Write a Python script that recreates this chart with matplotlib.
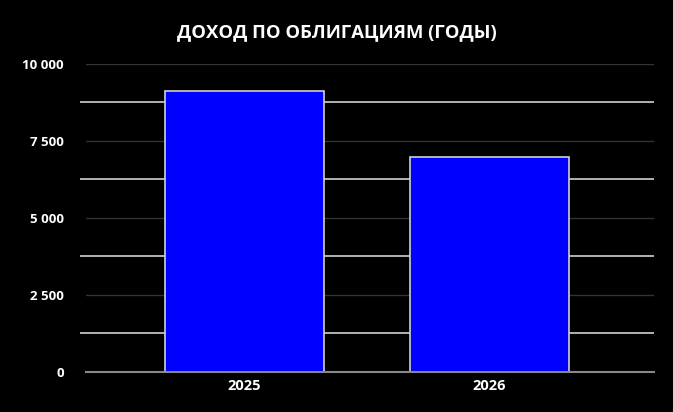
import matplotlib
matplotlib.use("Agg")
import matplotlib.pyplot as plt
from matplotlib.ticker import FixedLocator

# data
years = ["2025", "2026"]
income = [9120, 6980]
y_ticks = [0, 2500, 5000, 7500, 10000]
y_tick_labels = ["0", "2 500", "5 000", "7 500", "10 000"]
minor_ticks = [1250, 3750, 6250, 8750]

plt.rcParams["font.family"] = ["Open Sans", "DejaVu Sans"]

fig = plt.figure(figsize=(6.73, 4.12), dpi=100, facecolor="black")
ax = fig.add_axes([0.1278, 0.0971, 0.8440, 0.7476], facecolor="black")

x = list(range(len(years)))
ax.bar(x, income, width=0.65, color="#0000ff", edgecolor="#d0d0d0",
       linewidth=1.2, zorder=3)

ax.set_xlim(-0.647, 1.671)
ax.set_ylim(0, 10000)

ax.set_yticks(y_ticks)
ax.set_yticklabels(y_tick_labels)
ax.yaxis.set_minor_locator(FixedLocator(minor_ticks))
ax.set_xticks(x)
ax.set_xticklabels(years)

# major grid dark, minor grid light (the odd look of the original)
ax.grid(True, axis="y", which="major", color="#333333", linewidth=1.0, zorder=0)
ax.grid(True, axis="y", which="minor", color="#d0d0d0", linewidth=1.2, zorder=0)

for spine in ["top", "right", "left"]:
    ax.spines[spine].set_visible(False)
ax.spines["bottom"].set_color("#888888")
ax.spines["bottom"].set_linewidth(1.5)
ax.spines["bottom"].set_zorder(4)

ax.tick_params(axis="y", which="major", length=0, pad=16, colors="white",
               labelsize=9.5)
ax.tick_params(axis="y", which="minor", length=4.5, width=1.2,
               color="#d0d0d0", direction="out")
ax.tick_params(axis="x", length=0, pad=5, colors="white", labelsize=10.5)
for lbl in ax.get_yticklabels() + ax.get_xticklabels():
    lbl.set_fontweight("bold")

fig.text(0.501, 0.922, "ДОХОД ПО ОБЛИГАЦИЯМ (ГОДЫ)", ha="center", va="center",
         color="white", fontsize=13.3, fontweight="bold")

fig.savefig("out.png", dpi=100, facecolor="black")
